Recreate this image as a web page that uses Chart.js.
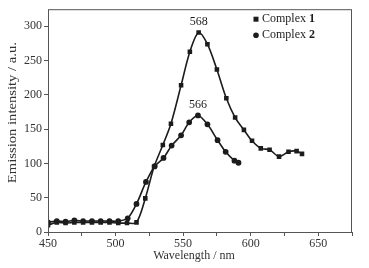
<!DOCTYPE html>
<html>
<head>
<meta charset="utf-8">
<script src="https://cdn.jsdelivr.net/npm/chart.js@4"></script>
<style>
  html, body { margin: 0; padding: 0; background: #fff; }
  #wrap { width: 369px; height: 268px; }
</style>
</head>
<body>
<div id="wrap"><canvas id="emission"></canvas></div>
<script>
// Wavelength (nm) and intensity (a.u.)
const wave1 = [450, 456.5, 463, 469.5, 476, 482.5, 489, 495.5, 502, 508.5, 515.5, 522, 528.5, 535, 541, 548.5, 555, 561.5, 568, 575, 582, 588.5, 595, 601, 607.5, 614, 621, 628, 634, 638];
const complex1 = [10, 14, 13, 14, 14, 14, 14, 14, 13, 13, 14, 49, 95, 127, 158, 214, 263, 291, 274, 237, 195, 167, 149, 133, 122, 120, 110, 117, 118, 114];

const wave2 = [450, 456.5, 463, 469.5, 476, 482.5, 489, 495.5, 502, 509, 515.5, 522.5, 529, 535.5, 541.5, 548.5, 554.5, 561, 568, 575.5, 581.5, 588, 591];
const complex2 = [14, 16, 15, 17, 16, 16, 16, 16, 16, 20, 41, 73, 96, 108, 126, 141, 160, 170, 157, 134, 117, 104, 101];

const seriesNames = ['Complex ', 'Complex '];
const seriesNums = ['1', '2'];
const peakLabels = ['568', '566'];

const xTicks = [450, 500, 550, 600, 650];
const yTicks = [0, 50, 100, 150, 200, 250, 300];
const xTitle = 'Wavelength / nm';
const yTitle = 'Emission intensity / a.u.';

const ink = '#1c1c1c';
const serif = '"Liberation Serif", "DejaVu Serif", serif';

function toPoints(xs, ys) {
    return xs.map((x, i) => ({ x: x, y: ys[i] }));
}

// frame, axis titles, peak labels and the legend
const extras = {
    id: 'extras',
    afterDatasetsDraw(chart) {
        const c = chart.ctx;
        const a = chart.chartArea;
        c.save();
        c.strokeStyle = '#555';
        c.lineWidth = 1;
        c.strokeRect(a.left + 0.5, a.top + 0.5, a.right - a.left - 1, a.bottom - a.top);

        // axis titles (the y one is a bit stretched in the original)
        c.fillStyle = '#333';
        c.font = '12px ' + serif;
        c.textAlign = 'center';
        c.textBaseline = 'middle';
        c.fillText(xTitle, (a.left + a.right) / 2 - 6, a.bottom + 24);
        c.save();
        c.translate(13, (a.top + a.bottom) / 2 - 8);
        c.rotate(-Math.PI / 2);
        c.scale(1.22, 1);
        c.fillText(yTitle, 0, 0);
        c.restore();

        // peak labels above the highest point of each curve
        c.fillStyle = ink;
        c.textBaseline = 'bottom';
        chart.data.datasets.forEach((ds, i) => {
            let best = 0;
            ds.data.forEach((p, j) => { if (p.y > ds.data[best].y) best = j; });
            const meta = chart.getDatasetMeta(i).data[best];
            c.fillText(peakLabels[i], meta.x, meta.y - 5);
        });

        // legend, number in bold
        c.textAlign = 'left';
        c.textBaseline = 'middle';
        const lx = a.right - 96, ly = a.top + 10;
        chart.data.datasets.forEach((ds, i) => {
            const y = ly + i * 16;
            c.fillStyle = ink;
            if (i === 0) {
                c.fillRect(lx - 2.5, y - 2.5, 5, 5);
            } else {
                c.beginPath();
                c.arc(lx, y, 2.8, 0, Math.PI * 2);
                c.fill();
            }
            c.font = '12px ' + serif;
            c.fillText(seriesNames[i], lx + 6, y);
            const w = c.measureText(seriesNames[i]).width;
            c.font = 'bold 12px ' + serif;
            c.fillText(seriesNums[i], lx + 6 + w, y);
        });
        c.restore();
    }
};

const ctx = document.getElementById('emission').getContext('2d');
const chart = new Chart(ctx, {
    type: 'line',
    data: {
        datasets: [{
            label: 'Complex 1',
            data: toPoints(wave1, complex1),
            borderColor: ink,
            backgroundColor: ink,
            borderWidth: 1.6,
            pointStyle: 'rect',
            pointRadius: 2.1,
            tension: 0.3
        }, {
            label: 'Complex 2',
            data: toPoints(wave2, complex2),
            borderColor: ink,
            backgroundColor: ink,
            borderWidth: 1.6,
            pointStyle: 'circle',
            pointRadius: 2.1,
            tension: 0.3
        }]
    },
    options: {
        responsive: true,
        maintainAspectRatio: false,
        animation: false,
        layout: { padding: { top: 5, right: 17, left: 0, bottom: 0 } },
        plugins: {
            legend: { display: false },
            tooltip: { enabled: false }
        },
        scales: {
            x: {
                type: 'linear',
                min: 450,
                max: 675,
                afterFit(s) { s.height = 36; },
                border: { display: false },
                grid: { drawOnChartArea: false, tickLength: 4, color: '#555' },
                ticks: {
                    stepSize: 25,
                    color: '#333',
                    padding: 1,
                    maxRotation: 0,
                    font: { family: serif, size: 12 },
                    callback: v => xTicks.includes(v) ? String(v) : ''
                }
            },
            y: {
                min: 0,
                max: 325,
                afterFit(s) { s.width = 48; },
                border: { display: false },
                grid: {
                    drawOnChartArea: false,
                    tickLength: 4,
                    color: ctx => ctx.tick && ctx.tick.value === 325 ? 'rgba(0,0,0,0)' : '#555'
                },
                ticks: {
                    stepSize: 25,
                    color: '#333',
                    padding: 2,
                    font: { family: serif, size: 12 },
                    callback: v => yTicks.includes(v) ? String(v) : ''
                }
            }
        }
    },
    plugins: [extras]
});
</script>
</body>
</html>
